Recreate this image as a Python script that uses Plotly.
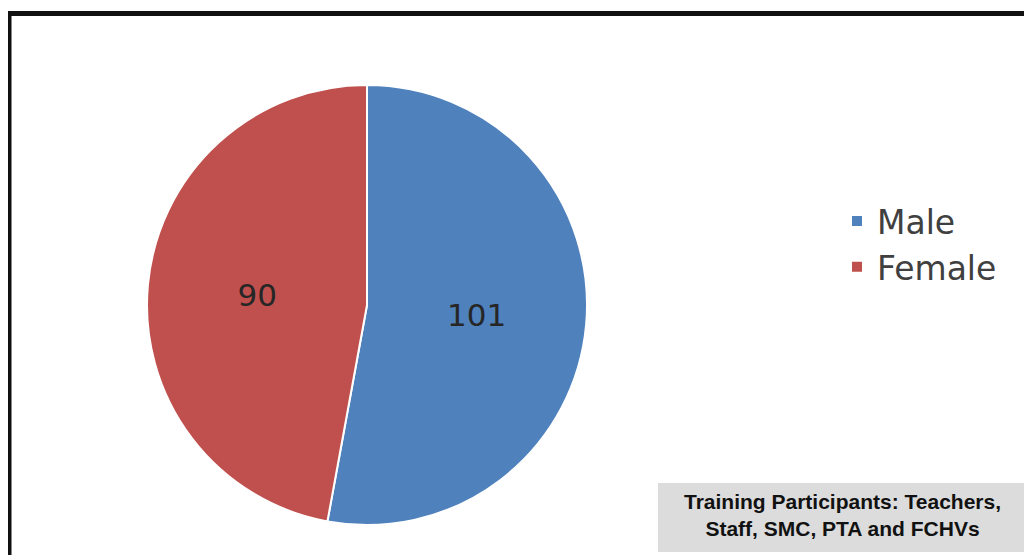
import plotly.graph_objects as go

categories = ["Male", "Female"]
values = [101, 90]
colors = ["#4f81bd", "#c0504d"]
box_lines = ["Training Participants: Teachers,", "Staff, SMC, PTA and FCHVs"]

# the page body adds an 8px margin, so the figure is sized to fit after it
OFF = 8
W, H = 1032 - OFF, 555 - OFF


def px(x):
    return (x - OFF) / W


def py(y):
    return 1 - (y - OFF) / H


fig = go.Figure(go.Pie(
    labels=categories,
    values=values,
    marker=dict(colors=colors, line=dict(color="white", width=2)),
    sort=False,
    direction="clockwise",
    rotation=0,
    textinfo="value",
    textposition="inside",
    insidetextorientation="horizontal",
    textfont=dict(family="DejaVu Sans, sans-serif", size=31, color="#262626"),
    domain=dict(x=[px(147), px(587)], y=[py(525), py(85)]),
    showlegend=True,
))

fig.update_layout(
    width=W, height=H,
    margin=dict(l=0, r=0, t=0, b=0),
    paper_bgcolor="white",
    plot_bgcolor="white",
    legend=dict(
        x=px(837), y=py(244), xanchor="left", yanchor="middle",
        font=dict(family="DejaVu Sans, sans-serif", size=33, color="#404040"),
        itemsizing="constant",
        bgcolor="rgba(0,0,0,0)",
    ),
    shapes=[
        dict(type="rect", xref="paper", yref="paper",
             x0=px(9), x1=1.02, y0=-0.02, y1=py(13.5),
             line=dict(color="#111111", width=5), fillcolor="rgba(0,0,0,0)"),
        dict(type="rect", xref="paper", yref="paper",
             x0=px(658), x1=1.0, y0=py(552), y1=py(483),
             line=dict(width=0), fillcolor="#dcdcdc"),
    ],
    annotations=[dict(
        text="<b>" + "<br>".join(box_lines) + "</b>", xref="paper", yref="paper",
        x=px(842), y=py(515), xanchor="center", yanchor="middle",
        showarrow=False, align="center",
        font=dict(family="Liberation Sans, Arial, sans-serif", size=21, color="#111111"),
    )],
)

fig.write_html("out.html")
